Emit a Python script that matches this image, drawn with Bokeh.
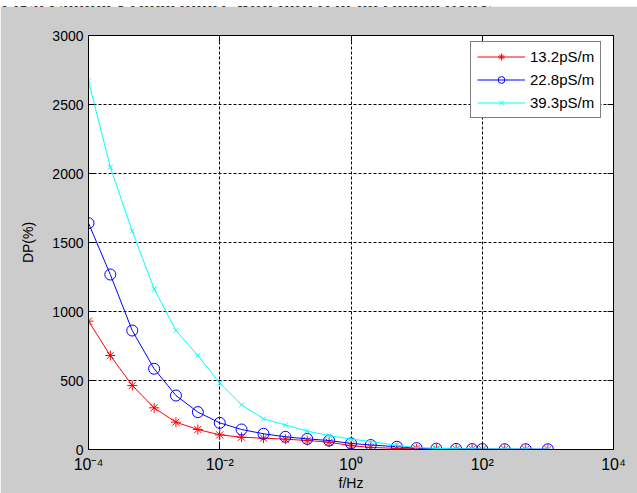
from bokeh.plotting import figure
from bokeh.models import FixedTicker, LinearAxis, LogAxis, Div, CustomJSTickFormatter
from bokeh.layouts import column
from bokeh.embed import file_html
from bokeh.resources import INLINE

# Frequency sweep (Hz) and dissipation DP(%) for three oil conductivities
freq_hz = [1e-4, 2.15e-4, 4.64e-4, 1e-3, 2.15e-3, 4.64e-3, 1e-2, 2.15e-2, 4.64e-2,
           0.1, 0.215, 0.464, 1, 2, 5, 10, 20, 40, 70, 100, 220, 460, 1000]
dp_13_2 = [930, 681, 464, 302, 198, 145, 106, 89, 82, 75, 65, 53, 28, 15, 8, 5,
           3, 2, 2, 1, 1, 1, 1]
dp_22_8 = [1640, 1268, 862, 585, 391, 271, 193, 145, 114, 92, 77, 65, 44, 33, 20,
           10, 6, 4, 3, 3, 2, 2, 2]
dp_39_3 = [2670, 2046, 1582, 1164, 862, 681, 481, 324, 222, 178, 133, 101, 75, 58,
           30, 14, 8, 5, 4, 3, 3, 2, 2]
series_names = ["13.2pS/m", "22.8pS/m", "39.3pS/m"]

xtick_values = [1e-4, 1e-2, 1e0, 1e2, 1e4]
xtick_labels = ["10\u207b\u2074", "10\u207b\u00b2", "10\u2070", "10\u00b2", "10\u2074"]
ytick_values = [0, 500, 1000, 1500, 2000, 2500, 3000]

caption_text = "Fig.8 Complex capacitance with different oil conductivity."

FONT = "Liberation Sans"

p = figure(width=637, height=487, x_axis_type="log",
           x_range=(1e-4, 1e4), y_range=(0, 3000),
           output_backend="svg", toolbar_location=None,
           min_border_left=88, min_border_right=24,
           min_border_top=29, min_border_bottom=44,
           border_fill_color="#cccccc", background_fill_color="white",
           outline_line_color="black", outline_line_width=1)

# mirrored axes on top/right carry only inward ticks
p.add_layout(LogAxis(), "above")
p.add_layout(LinearAxis(), "right")
blank = CustomJSTickFormatter(code="return ''")
p.above[0].formatter = blank
p.right[0].formatter = blank

for ax in p.xaxis:
    ax.ticker = FixedTicker(ticks=xtick_values)
for ax in p.yaxis:
    ax.ticker = FixedTicker(ticks=ytick_values)
for ax in list(p.xaxis) + list(p.yaxis):
    ax.major_tick_in = 6
    ax.major_tick_out = 0
    ax.minor_tick_in = 0
    ax.minor_tick_out = 0
    ax.axis_line_color = "black"
    ax.major_tick_line_color = "black"
    ax.major_label_text_font = FONT
    ax.major_label_text_font_size = "14px"
    ax.major_label_text_color = "black"
    ax.axis_label_text_font = FONT
    ax.axis_label_text_font_size = "14px"
    ax.axis_label_text_font_style = "normal"
    ax.axis_label_text_color = "black"

xb = p.below[0]
xb.major_label_overrides = dict(zip(xtick_values, xtick_labels))
xb.major_label_text_font_size = "16px"
xb.major_label_standoff = 6
xb.axis_label = "f/Hz"
xb.axis_label_standoff = -1

yl = p.left[0]
yl.major_label_standoff = 5
yl.axis_label = "DP(%)"
yl.axis_label_standoff = 13

p.xgrid.ticker = FixedTicker(ticks=xtick_values)
p.ygrid.ticker = FixedTicker(ticks=ytick_values)
for g in (p.xgrid, p.ygrid):
    g.grid_line_color = "black"
    g.grid_line_dash = "3 2"
    g.grid_line_width = 1

styles = [
    ("#ff0000", "asterisk", 10, dp_13_2),
    ("#0000ff", "circle", 11, dp_22_8),
    ("#00ffff", "x", 7, dp_39_3),
]
for (color, marker, size, vals), name in zip(styles, series_names):
    p.line(freq_hz, vals, line_color=color, line_width=1, legend_label=name)
    p.scatter(freq_hz, vals, marker=marker, size=size, line_color=color,
              fill_color=None, line_width=1, legend_label=name)

lg = p.legend[0]
lg.location = (382, 331)
lg.border_line_color = "black"
lg.border_line_width = 1
lg.background_fill_color = "white"
lg.background_fill_alpha = 1
lg.label_text_font = FONT
lg.label_text_font_size = "15px"
lg.label_text_color = "black"
lg.glyph_width = 48
lg.glyph_height = 17
lg.label_height = 17
lg.label_standoff = 5
lg.spacing = 6
lg.padding = 6
lg.margin = 0

caption = Div(
    text=('<div style="position:relative;width:637px;height:6px;overflow:hidden;'
          'background:#ffffff;"><span style="position:absolute;left:1px;top:-13px;'
          'white-space:nowrap;font-family:\'Liberation Serif\';font-weight:bold;'
          'font-size:20px;line-height:20px;color:#000;">' + caption_text + '</span></div>'),
    width=637, height=6, margin=0)

layout = column(caption, p, spacing=0)
open("out.html", "w").write(file_html(layout, INLINE))
